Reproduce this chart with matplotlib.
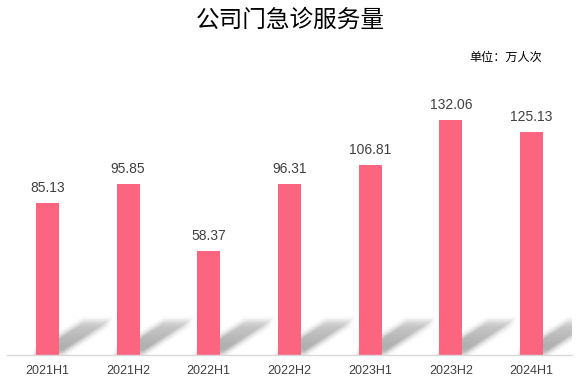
import numpy as np
import matplotlib.pyplot as plt
from matplotlib.patches import Polygon

plt.rcParams['font.family'] = ['Noto Sans CJK SC', 'DejaVu Sans']

periods = ["2021H1", "2021H2", "2022H1", "2022H2", "2023H1", "2023H2", "2024H1"]
visits = [85.13, 95.85, 58.37, 96.31, 106.81, 132.06, 125.13]

bar_color = "#FC6580"
text_color = "#404040"

fig = plt.figure(figsize=(5.81, 3.80), dpi=100)
ax = fig.add_axes([7 / 581, 25 / 380, 565 / 581, 267 / 380])

x = np.arange(len(periods))
width = 0.285

# soft diagonal shadow: bar footprint sheared up to the right,
# faded along its length and blurred by stacking
dx, dy = 0.62, 18.0
steps = 12
for xi in x:
    x0 = xi - width / 2
    x1 = xi + width / 2
    for i in range(steps):
        t0 = i / steps
        t1 = (i + 1) / steps
        fade = 1.0 - 0.6 * t0
        for k in range(4):
            g = k * 0.018
            h = k * 0.9
            pts = [(x0 - g + dx * t0, dy * t0 + 1 - h), (x1 + g + dx * t0, dy * t0 + 1 - h),
                   (x1 + g + dx * t1, dy * t1 + 1 + h), (x0 - g + dx * t1, dy * t1 + 1 + h)]
            ax.add_patch(Polygon(pts, closed=True, facecolor="#8c8c8c",
                                 edgecolor="none", alpha=0.10 * fade, zorder=1))

bars = ax.bar(x, visits, width=width, color=bar_color, zorder=3)
for b, v in zip(bars, visits):
    ax.text(b.get_x() + b.get_width() / 2, v + 4.5, f"{v:.2f}",
            ha="center", va="bottom", fontsize=10, color=text_color,
            family="Liberation Sans", zorder=4)

ax.set_xlim(-0.5, len(periods) - 0.5)
ax.set_ylim(0, 150)
ax.set_xticks(x)
ax.set_xticklabels(periods, fontsize=9, color=text_color, family="Liberation Sans")
ax.tick_params(axis="x", length=0, pad=7)
ax.set_yticks([])
for s in ["top", "right", "left"]:
    ax.spines[s].set_visible(False)
ax.spines["bottom"].set_color("#D9D9D9")
ax.spines["bottom"].set_linewidth(1)
ax.spines["bottom"].set_zorder(5)

fig.text(290 / 581, 1 - 20 / 380, "公司门急诊服务量", ha="center", va="center",
         fontsize=17, color="black")
fig.text(506 / 581, 1 - 57 / 380, "单位：万人次", ha="center", va="center",
         fontsize=8.7, color="black")

fig.savefig("out.png", dpi=100)
